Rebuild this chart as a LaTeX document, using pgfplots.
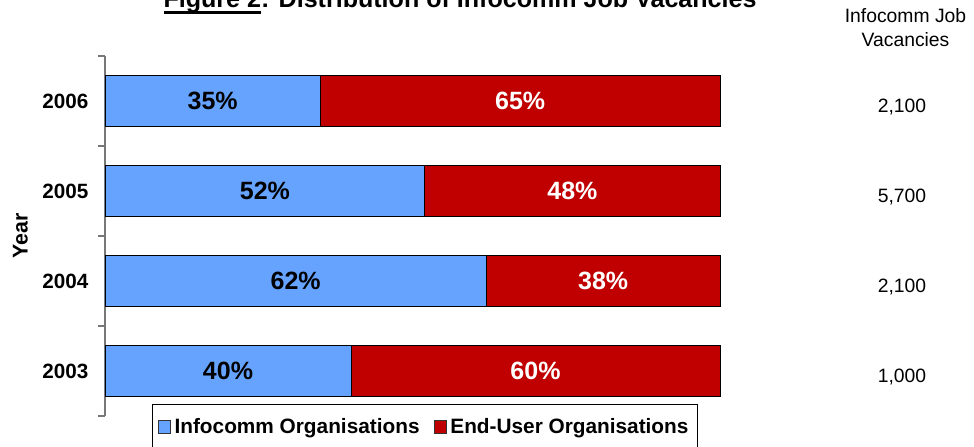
\documentclass[border=0pt]{standalone}
\usepackage{fontspec}
\setmainfont{Liberation Sans}
\usepackage{pgfplots}
\usepackage{pgfplotstable}
\pgfplotsset{compat=1.18}
\definecolor{infoblue}{RGB}{102,163,255}
\definecolor{endred}{RGB}{192,0,0}
\definecolor{axgray}{RGB}{120,120,120}
\newcommand\thickul[1]{\setbox0\hbox{#1}\rlap{\rule[-4.5pt]{\wd0}{2.2pt}}\box0}
\pgfplotstableread{
pos year info enduser total
0 2003 40 60 1,000
1 2004 62 38 2,100
2 2005 52 48 5,700
3 2006 35 65 2,100
}\datatable
\pgfplotsset{samegeom/.style={
  at={(0,0)}, anchor=south west,
  scale only axis, width=461.25pt, height=270pt,
  xmin=0, xmax=100, ymin=-0.5, ymax=3.5, clip=false}}
\begin{document}
\begin{tikzpicture}[x=0.75pt,y=0.75pt]
% frame in reference pixels: origin at pixel (105,416)
\path[use as bounding box] (-105,416) rectangle (869,-30);
\clip (-105,416) rectangle (869,-30);
\begin{axis}[
  samegeom,
  xbar stacked, bar width=0.56,
  axis x line=none,
  axis y line*=left,
  y axis line style={draw=axgray, line width=0.8pt},
  ytick={0,1,2,3}, yticklabels={2003,2004,2005,2006},
  major tick length=0pt,
  minor ytick={-0.5,0.5,1.5,2.5,3.5},
  minor tick length=5.25pt,
  tick align=outside,
  minor y tick style={draw=axgray, line width=0.8pt},
  yticklabel style={font=\bfseries\fontsize{15.5}{18}\selectfont, xshift=-9pt},
  ylabel={Year},
  ylabel style={font=\bfseries\fontsize{16}{18}\selectfont, at={(axis description cs:-0.1374,0.5)}, anchor=center},
  legend style={at={(axis description cs:0.52,0)}, anchor=north, yshift=9pt, legend columns=2,
    draw=black, line width=0.6pt,
    font=\bfseries\fontsize{15.6}{18}\selectfont,
    inner xsep=4pt, inner ysep=8.5pt,
    /tikz/every even column/.append style={column sep=8pt},
    nodes={text depth=10pt, inner xsep=2.5pt}},
  legend image code/.code={\draw[#1, line width=0.6pt, draw=black!80] (0pt,-0.3pt) rectangle (9.5pt,9.2pt);},
]
\addplot+[fill=infoblue, draw=black, line width=0.6pt]
  table[x=info, y=pos] {\datatable};
\addlegendentry{Infocomm Organisations}
\addplot+[fill=endred, draw=black, line width=0.6pt]
  table[x=enduser, y=pos] {\datatable};
\addlegendentry{End-User Organisations}
% right-hand column: total vacancies
\node[font=\fontsize{14.5}{17}\selectfont, yshift=-4.5pt] at (axis cs:129.6,3) {2,100};
\node[font=\fontsize{14.5}{17}\selectfont, yshift=-4.5pt] at (axis cs:129.6,2) {5,700};
\node[font=\fontsize{14.5}{17}\selectfont, yshift=-4.5pt] at (axis cs:129.6,1) {2,100};
\node[font=\fontsize{14.5}{17}\selectfont, yshift=-4.5pt] at (axis cs:129.6,0) {1,000};
\end{axis}
% overlay axis with the segment labels, centred in each segment
\begin{axis}[samegeom, hide axis,
  /pgf/number format/assume math mode=true,
  nodes near coords={\pgfmathprintnumber{\pgfplotspointmeta}\%},
  point meta=explicit]
\addplot[draw=none, mark=none,
  every node near coord/.append style={font=\bfseries\fontsize{18.75}{21}\selectfont, text=black, anchor=center}]
  table[x expr=\thisrow{info}/2, y=pos, meta=info] {\datatable};
\addplot[draw=none, mark=none,
  every node near coord/.append style={font=\bfseries\fontsize{18.75}{21}\selectfont, text=white, anchor=center}]
  table[x expr=\thisrow{info}+\thisrow{enduser}/2, y=pos, meta=enduser] {\datatable};
\end{axis}
\node[anchor=base, font=\bfseries\fontsize{18.8}{22}\selectfont] at (355,408) {\thickul{Figure 2}: Distribution of Infocomm Job Vacancies};
\node[anchor=base, font=\fontsize{14.5}{17}\selectfont] at (800.5,393) {Infocomm Job};
\node[anchor=base, font=\fontsize{14.5}{17}\selectfont] at (800.5,369) {Vacancies};
\end{tikzpicture}
\end{document}
